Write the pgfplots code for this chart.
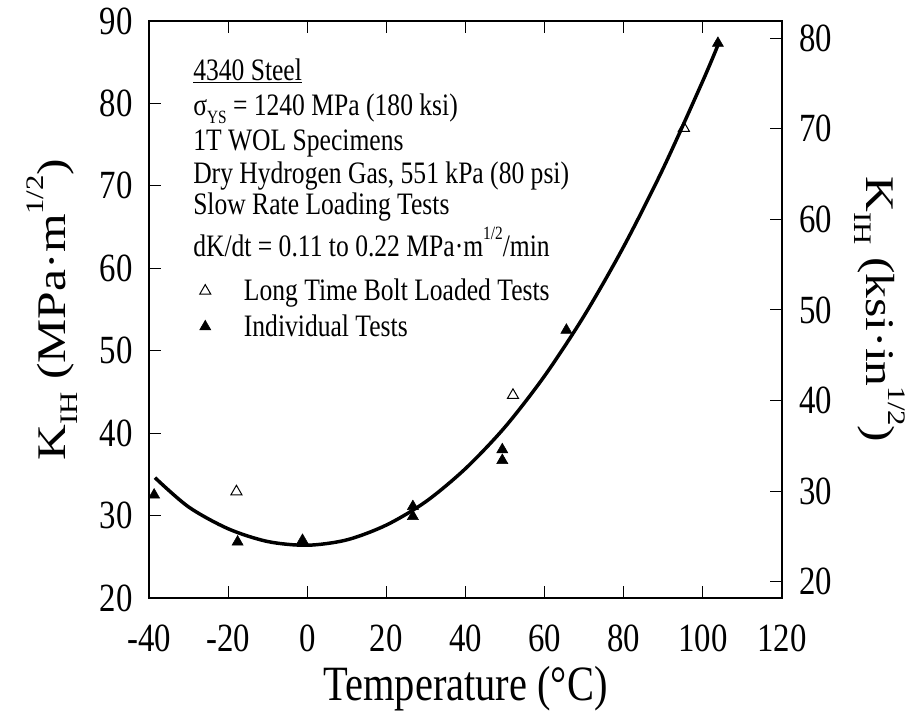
\documentclass[border=0pt]{standalone}
\usepackage{fontspec}
\setmainfont{Liberation Serif}[FakeStretch=0.82]
\newfontfamily\rotfont{Liberation Serif}[FakeStretch=1.22]
\usepackage{graphicx}
\usepackage{pgfplots}
\pgfplotsset{compat=1.18}
\usetikzlibrary{calc}

\newcommand{\annfont}{\fontsize{23.4}{25}\selectfont}
\newcommand{\tickfont}{\fontsize{30}{32}\selectfont}
\newcommand{\labfont}{\fontsize{37}{40}\selectfont}
\newcommand{\ylabfont}{\rotfont\fontsize{30.5}{34}\selectfont}
\newcommand{\lsub}[1]{\raisebox{-0.3em}{\scalebox{0.62}{#1}}}
\newcommand{\lsup}[1]{\raisebox{0.55em}{\scalebox{0.62}{#1}}}

\begin{document}
\begin{tikzpicture}
\begin{axis}[
  name=main,
  scale only axis,
  width=474.75pt, height=432.75pt,
  xmin=-40, xmax=120, ymin=20, ymax=90,
  xtick={-40,-20,...,120}, ytick={20,30,...,90},
  xtick pos=both, ytick pos=left,
  xticklabel pos=lower, yticklabel pos=left,
  tick align=inside,
  major tick length=9pt,
  tick style={black, line width=0.75pt},
  axis line style={black, line width=0.9pt},
  /pgf/number format/assume math mode=true,
  tick label style={font=\tickfont},
  xticklabel style={anchor=north, inner sep=0pt, yshift=-20pt},
  yticklabel style={anchor=east, inner sep=0pt, xshift=-12pt},
  every axis x label/.style={at={(rel axis cs:0.5,0)}, yshift=-77pt, anchor=base, inner sep=0pt, font=\labfont},
  every axis y label/.style={at={(rel axis cs:0,0.5)}, xshift=-72.75pt, rotate=90, anchor=center, font=\ylabfont},
  xlabel={Temperature (°C)},
  ylabel={K\lsub{IH} (MPa·m\lsup{1/2})},
  legend style={at={(rel axis cs:0.0695,0.553)}, anchor=north west, draw=none, fill=none,
    inner sep=0pt, font=\annfont, row sep=9pt,
    nodes={inner sep=0pt}},
  legend cell align=left,
  legend image code/.code={\path[draw=none, fill=none] (0pt,0pt) -- (38pt,0pt);
    \draw[only marks, mark repeat=2,mark phase=2] plot coordinates {(0pt,0pt)(9pt,0pt)(18pt,0pt)};},
]
% fitted curve
\addplot[black, line width=2.6pt, smooth, forget plot] coordinates {
  (-38.5,34.6) (-30,31.05) (-20,28.4) (-10,26.85) (0,26.4) (10,27.05)
  (20,28.85) (30,31.7) (40,35.7) (50,40.75) (60,46.95) (70,54.25)
  (80,62.65) (90,72.15) (100,82.75) (104,87.3)};
% long time bolt loaded tests (open)
\addplot[only marks, mark=triangle, mark size=4.8pt, mark options={black, line width=0.75pt, fill=white}] coordinates {
  (-17.9,32.9) (52.0,44.6) (95.2,77.0)};
\addlegendentry{Long Time Bolt Loaded Tests}
% individual tests (filled)
\addplot[only marks, mark=triangle*, mark size=4.8pt, mark options={black, fill=black}] coordinates {
  (-38.7,32.5) (-17.6,26.8) (-1.2,27.0) (26.7,31.1) (26.7,29.9)
  (49.3,38.0) (49.3,36.7) (65.5,52.5) (103.8,87.3)};
\addlegendentry{Individual Tests}

\node[anchor=base west, inner sep=0pt, font=\annfont] at (rel axis cs:0.0695,0.8977) {\underline{4340 Steel}};
\node[anchor=base west, inner sep=0pt, font=\annfont] at (rel axis cs:0.0695,0.8354) {σ\raisebox{-0.24em}{\scalebox{0.6}{YS}} = 1240 MPa (180 ksi)};
\node[anchor=base west, inner sep=0pt, font=\annfont] at (rel axis cs:0.0695,0.7764) {1T WOL Specimens};
\node[anchor=base west, inner sep=0pt, font=\annfont] at (rel axis cs:0.0695,0.7192) {Dry Hydrogen Gas, 551 kPa (80 psi)};
\node[anchor=base west, inner sep=0pt, font=\annfont] at (rel axis cs:0.0695,0.6655) {Slow Rate Loading Tests};
\node[anchor=base west, inner sep=0pt, font=\annfont] at (rel axis cs:0.0695,0.5910) {dK/dt = 0.11 to 0.22 MPa·m\raisebox{0.55em}{\scalebox{0.6}{1/2}}/min};
\end{axis}
\begin{axis}[
  scale only axis,
  width=474.75pt, height=432.75pt,
  xmin=-40, xmax=120, ymin=18.2017, ymax=81.9075,
  axis x line=none, axis y line*=right,
  ytick={20,30,...,80},
  tick align=inside,
  major tick length=9pt,
  tick style={black, line width=0.75pt},
  axis line style={black, line width=0.9pt},
  /pgf/number format/assume math mode=true,
  tick label style={font=\tickfont},
  yticklabel style={anchor=west, inner sep=0pt, xshift=12.75pt},
  every axis y label/.style={at={(rel axis cs:1,0.5)}, xshift=73.5pt, rotate=-90, anchor=center, font=\ylabfont},
  ylabel={K\lsub{IH} (ksi·in\lsup{1/2})},
]
\addplot[draw=none, forget plot] coordinates {(0,50)};
\end{axis}
\pgfresetboundingbox
\path ($(main.south west)+(-111.75pt,-87.75pt)$) rectangle ($(main.north east)+(100.5pt,15.75pt)$);
\end{tikzpicture}
\end{document}
